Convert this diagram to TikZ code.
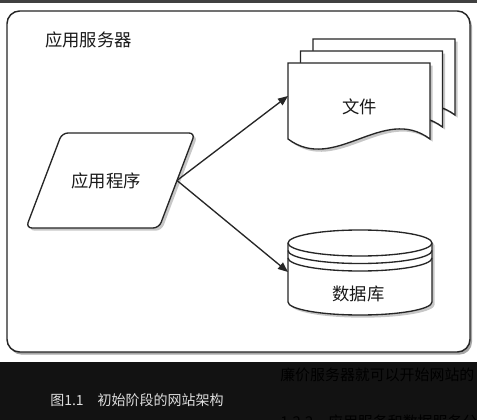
\documentclass[tikz,border=0pt]{standalone}
\usepackage{fontspec}
\setmainfont{Noto Sans CJK SC}
\usetikzlibrary{arrows.meta,shadows}
\begin{document}
\begin{tikzpicture}[x=0.75pt,y=-0.75pt,
  shapeline/.style={draw=black!85, line width=1pt, fill=white},
  shadowed/.style={drop shadow={shadow xshift=2pt,shadow yshift=-2pt,opacity=0.22,fill=black}},
  lbl/.style={font=\fontsize{13pt}{15pt}\selectfont, text=black!90, inner sep=0pt},
  conn/.style={draw=black!85, line width=1pt, -{Triangle[length=7.5pt,width=6pt]}},
  captxt/.style={font=\fontsize{10.5pt}{12pt}\selectfont, text=black!13, inner sep=0pt, anchor=west},
  bodytxt/.style={font=\fontsize{11.2pt}{13pt}\selectfont, text=black, inner sep=0pt, anchor=west},
]
\useasboundingbox (0,0) rectangle (477,420);
\clip (0,0) rectangle (477,420);
\fill[white] (0,0) rectangle (477,362);
\fill[black!75] (0,0) rectangle (477,3);
\fill[black!93] (0,362) rectangle (477,420);

% main server box
\draw[shapeline, line width=1.1pt, rounded corners=9.5pt,
  drop shadow={shadow xshift=1.5pt,shadow yshift=-2pt,opacity=0.35,fill=black}]
  (7,11) rectangle (470,352);
\node[lbl, anchor=west] (server) at (45,39.5) {应用服务器};

% application parallelogram
\draw[shapeline, shadowed, rounded corners=4.5pt]
  (128,133) -- (195,133) -- (159,228) -- (26,228) -- (62,133) -- cycle;
\node[lbl] (app) at (106,181) {应用程序};
\coordinate (appout) at (177,180.5);

% document stack
\foreach \dx/\dy in {25/-24, 12.5/-12, 0/0} {
  \draw[shapeline, shadowed]
    (288+\dx,63+\dy) -- (430+\dx,63+\dy) -- (430+\dx,139+\dy)
    .. controls (383+\dx,104+\dy) and (335+\dx,174+\dy) .. (288+\dx,139+\dy) -- cycle;
}
\node[lbl] (files) at (359.5,106.5) {文件};
\coordinate (filesin) at (288,96);

% database cylinder
\draw[shapeline, shadowed]
  (288,243) -- (288,302) arc[start angle=180,end angle=0,x radius=72,y radius=13]
  -- (432,243) arc[start angle=0,end angle=-180,x radius=72,y radius=13] -- cycle;
\draw[shapeline, fill=none] (288,243) arc[start angle=180,end angle=0,x radius=72,y radius=13];
\draw[shapeline, fill=none] (288,250.5) arc[start angle=180,end angle=0,x radius=72,y radius=13];
\draw[shapeline, fill=none] (288,258) arc[start angle=180,end angle=0,x radius=72,y radius=13];
\node[lbl] (db) at (358.5,293.5) {数据库};
\coordinate (dbin) at (288,272);

% connectors
\draw[conn] (appout) -- (filesin);
\draw[conn] (appout) -- (dbin);

% caption area
\node[captxt] (caption) at (50,400) {图1.1\hspace{10.5pt}初始阶段的网站架构};
\node[bodytxt] (line1) at (280,375) {廉价服务器就可以开始网站的};
\node[bodytxt] (line2) at (280,422) {1.2.2\hspace{11pt}应用服务和数据服务分};
\end{tikzpicture}
\end{document}
